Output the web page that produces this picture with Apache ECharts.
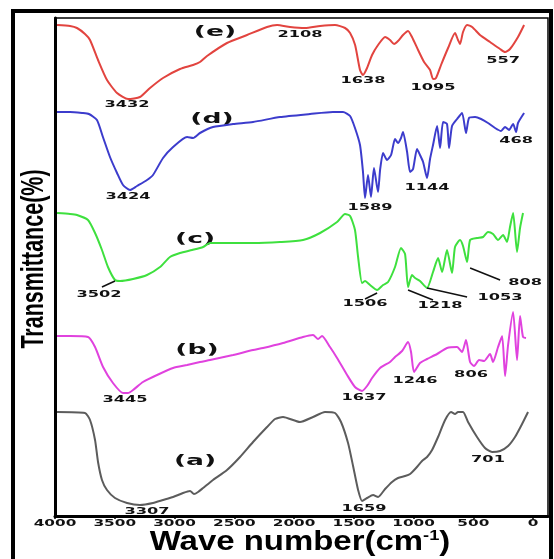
<!DOCTYPE html>
<html>
<head>
<meta charset="utf-8">
<title>FTIR spectra</title>
<script src="https://cdn.jsdelivr.net/npm/echarts@6/dist/echarts.min.js"></script>
<style>
  html, body { margin: 0; padding: 0; background: #fff; }
  #chart { width: 554px; height: 559px; }
</style>
</head>
<body>
<div id="chart"></div>
<script>
// wave number (cm-1) ticks
var waveTicks = [0, 500, 1000, 1500, 2000, 2500, 3000, 3500, 4000];

// [wave number, transmittance], curves are offset as drawn
var curveE = [[3983,98.2],[3874,98.0],[3816,97.6],[3749,96.4],[3707,95.2],[3640,91.2],[3565,87.2],[3481,84.6],[3389,83.4],[3289,83.8],[3205,85.6],[3096,87.6],[2954,89.4],[2845,90.2],[2787,90.8],[2728,92.0],[2561,94.6],[2393,96.2],[2226,97.8],[2142,98.2],[2033,97.8],[1908,97.6],[1782,98.0],[1657,98.2],[1573,97.6],[1531,96.6],[1489,94.2],[1448,89.2],[1423,88.2],[1389,89.6],[1347,92.2],[1297,94.2],[1238,95.8],[1197,95.2],[1163,94.4],[1130,95.0],[1088,96.2],[1046,97.0],[1013,95.8],[962,93.2],[912,90.8],[862,89.2],[837,87.4],[812,87.6],[770,90.2],[711,93.6],[653,96.6],[628,95.2],[611,94.4],[586,96.8],[552,98.2],[510,97.8],[444,96.2],[360,94.8],[276,93.4],[234,92.8],[193,93.4],[126,95.8],[75,98.2]];

var curveD = [[3983,80.8],[3874,80.8],[3774,80.6],[3716,80.4],[3649,79.2],[3599,75.8],[3540,71.8],[3481,68.6],[3431,66.2],[3372,65.2],[3314,66.0],[3230,67.2],[3180,68.2],[3096,71.6],[3012,73.8],[2895,75.8],[2845,75.6],[2787,76.6],[2678,77.8],[2510,78.4],[2343,78.8],[2117,79.8],[1866,80.4],[1674,80.8],[1590,80.8],[1531,80.0],[1490,77.6],[1448,74.2],[1423,68.8],[1406,63.6],[1381,68.2],[1356,63.8],[1331,69.6],[1297,64.8],[1280,69.2],[1255,72.6],[1222,71.2],[1188,72.2],[1155,75.4],[1130,74.6],[1105,75.6],[1088,76.8],[1054,72.8],[1029,68.8],[1004,69.4],[971,73.4],[946,72.2],[920,70.8],[887,67.6],[862,71.4],[837,74.2],[803,78.0],[778,73.6],[753,78.8],[720,78.4],[703,73.6],[678,78.0],[636,79.4],[594,80.6],[561,76.6],[536,79.6],[485,79.8],[435,79.4],[377,78.6],[318,77.6],[268,77.0],[234,77.8],[201,77.2],[167,78.4],[142,76.8],[126,78.6],[75,80.6]];

var curveC = [[3983,60.6],[3874,60.4],[3816,60.2],[3724,59.2],[3665,56.6],[3607,53.2],[3557,49.8],[3498,47.2],[3456,47.0],[3347,47.4],[3230,48.2],[3121,49.8],[3038,51.8],[2954,52.6],[2853,53.2],[2761,53.8],[2703,54.6],[2510,54.6],[2343,54.6],[2117,54.8],[1925,55.2],[1782,56.6],[1640,58.8],[1573,60.4],[1531,60.0],[1490,57.2],[1464,51.8],[1431,46.6],[1406,47.0],[1364,46.2],[1305,45.2],[1255,46.2],[1213,46.8],[1155,49.8],[1105,53.6],[1071,52.4],[1046,45.8],[1013,48.2],[987,47.6],[946,47.0],[887,45.6],[837,48.8],[795,51.6],[761,48.8],[720,53.2],[678,48.6],[653,53.8],[611,55.2],[586,54.0],[552,50.8],[527,55.2],[469,55.6],[418,55.8],[377,56.8],[335,56.4],[293,55.2],[251,56.2],[218,54.8],[193,57.8],[167,60.6],[134,52.8],[109,57.6],[84,60.6]];

var curveB = [[3983,36.0],[3874,36.0],[3724,35.8],[3665,33.8],[3598,29.8],[3515,26.6],[3431,24.6],[3389,24.6],[3347,25.2],[3264,26.8],[3146,28.2],[3012,29.6],[2895,30.2],[2787,30.8],[2703,31.2],[2510,32.2],[2343,33.2],[2259,33.6],[2092,34.6],[1925,35.8],[1841,36.2],[1799,35.4],[1766,36.0],[1699,33.8],[1640,31.6],[1556,28.2],[1490,25.8],[1431,25.0],[1389,26.0],[1347,27.6],[1280,29.6],[1197,30.8],[1155,31.8],[1096,33.0],[1046,34.8],[1021,32.8],[996,28.8],[946,30.6],[887,31.4],[803,32.4],[720,33.6],[636,33.8],[594,32.8],[561,35.2],[527,30.8],[494,30.0],[452,31.2],[410,31.0],[360,32.4],[335,30.8],[293,33.8],[259,36.0],[234,28.0],[209,34.2],[167,40.8],[134,31.2],[109,40.0],[84,35.8],[59,35.6]];

var curveA = [[3983,20.8],[3749,20.6],[3707,19.2],[3665,15.2],[3640,10.8],[3607,7.2],[3565,5.2],[3498,3.6],[3397,2.6],[3289,2.2],[3180,2.6],[3096,3.2],[3012,3.8],[2929,4.6],[2870,5.0],[2837,4.4],[2803,4.8],[2761,5.6],[2678,7.2],[2561,9.2],[2452,11.8],[2343,14.8],[2226,17.8],[2159,19.4],[2092,19.8],[1950,18.8],[1841,19.8],[1741,20.8],[1657,20.6],[1607,18.8],[1548,14.6],[1506,10.0],[1464,5.2],[1431,3.0],[1389,3.6],[1339,4.2],[1297,3.8],[1238,5.4],[1180,6.8],[1130,7.6],[1071,8.0],[1029,8.4],[979,9.6],[929,11.0],[887,11.8],[845,13.2],[795,15.8],[736,19.2],[686,20.8],[653,20.4],[628,20.8],[586,20.8],[544,18.8],[469,15.8],[402,13.6],[343,12.8],[276,13.0],[209,14.0],[151,15.8],[92,18.4],[42,20.8]];

// peak annotations: [text, wave number, transmittance] of where the label sits
var peaksE = [['3432',3397,82.2],['2108',1950,96.2],['1638',1423,87.0],['1095',837,85.6],['557',251,91.0]];
var peaksD = [['3424',3389,63.8],['1589',1364,61.6],['1144',887,65.6],['468',142,75.0]];
var peaksC = [['3502',3632,44.2],['1506',1406,42.4],['1218',778,42.0],['1053',276,43.6],['808',67,46.6]];
var peaksB = [['3445',3414,23.2],['1637',1414,23.6],['1246',987,27.0],['806',519,28.2]];
var peaksA = [['3307',3230,0.8],['1659',1414,1.4],['701',377,11.2]];

// leader lines from the (c) labels to their bands
var leadersC = [
  [[3607,45.8],[3498,47.0]],
  [[1406,43.4],[1305,44.6]],
  [[1046,45.2],[837,43.2]],
  [[887,45.6],[552,43.8]],
  [[527,49.6],[276,47.2]]
];

// curve names and where they are written
var curveTags = [['(e)',2661,96.8],['(d)',2686,79.4],['(c)',2828,55.4],['(b)',2812,33.2],['(a)',2828,11.0]];

var colors = ['#e2443f', '#3c3ccc', '#3ee03e', '#e042de', '#5c5c5c'];
var curves = [curveE, curveD, curveC, curveB, curveA];
var peaks = [peaksE, peaksD, peaksC, peaksB, peaksA];

var chart = echarts.init(document.getElementById('chart'));

var series = curves.map(function (c, i) {
  var s = {
    type: 'line',
    data: c,
    showSymbol: false,
    smooth: 0.2,
    lineStyle: { color: colors[i], width: 2 },
    itemStyle: { color: colors[i] },
    z: 3
  };
  if (i === 2) {
    s.markLine = {
      silent: true,
      symbol: 'none',
      label: { show: false },
      lineStyle: { color: '#111', width: 1.5, type: 'solid' },
      data: leadersC.map(function (l) {
        return [{ coord: l[0] }, { coord: l[1] }];
      })
    };
  }
  return s;
});

var option = {
  animation: false,
  grid: {
    left: 55, right: 6, top: 18, bottom: 43,
    show: true, borderColor: '#000', borderWidth: 1.5
  },
  xAxis: {
    type: 'value',
    inverse: true,
    min: -125,
    max: 4000,
    axisLine: { show: true, onZero: false, lineStyle: { color: '#000', width: 3 } },
    axisTick: { show: true, customValues: waveTicks, length: 3, lineStyle: { color: '#000', width: 1.5 } },
    axisLabel: { show: false },
    splitLine: { show: false }
  },
  yAxis: {
    type: 'value',
    min: 0,
    max: 99.6,
    axisLine: { show: true, onZero: false, lineStyle: { color: '#000', width: 3 } },
    axisTick: { show: false },
    axisLabel: { show: false },
    splitLine: { show: false }
  },
  series: series
};

chart.setOption(option);

// texts are placed through the chart's own coordinate system
function px(x, y) {
  return chart.convertToPixel({ gridIndex: 0 }, [x, y]);
}

var smallFont = 'bold 9px "DejaVu Sans"';
var graphics = [];

graphics.push({
  type: 'rect',
  shape: { x: 13, y: 11, width: 538, height: 560 },
  style: { fill: null, stroke: '#000', lineWidth: 4 },
  silent: true
});

waveTicks.forEach(function (t) {
  var p = px(t, 0);
  graphics.push({
    type: 'text', x: p[0], y: 523.5, scaleX: 1.7,
    style: { text: String(t), font: smallFont, fill: '#111', align: 'center', verticalAlign: 'middle' }
  });
});

peaks.forEach(function (list) {
  list.forEach(function (pk) {
    var p = px(pk[1], pk[2]);
    graphics.push({
      type: 'text', x: p[0], y: p[1], scaleX: 1.8,
      style: { text: pk[0], font: smallFont, fill: '#111', align: 'center', verticalAlign: 'middle' }
    });
  });
});

curveTags.forEach(function (tg) {
  var p = px(tg[1], tg[2]);
  graphics.push({
    type: 'text', x: p[0], y: p[1], scaleX: 1.9,
    style: { text: tg[0], font: 'bold 14px "DejaVu Sans"', fill: '#111', align: 'center', verticalAlign: 'middle' }
  });
});

graphics.push({
  type: 'text', x: 300, y: 543, scaleX: 1.22,
  style: {
    text: '{m|Wave number(cm}{s|-1}{m|)}',
    align: 'center', verticalAlign: 'middle',
    rich: {
      m: { fontSize: 27, fontWeight: 'bold', fontFamily: 'Liberation Sans', fill: '#000', lineHeight: 30 },
      s: { fontSize: 15, fontWeight: 'bold', fontFamily: 'Liberation Sans', fill: '#000', verticalAlign: 'top', lineHeight: 30 }
    }
  }
});

graphics.push({
  type: 'text', x: 34, y: 259, rotation: Math.PI / 2, scaleY: 1.5,
  style: {
    text: 'Transmittance(%)', font: 'bold 21.5px "Liberation Sans"', fill: '#000',
    align: 'center', verticalAlign: 'middle'
  }
});

chart.setOption({ graphic: graphics });
</script>
</body>
</html>
